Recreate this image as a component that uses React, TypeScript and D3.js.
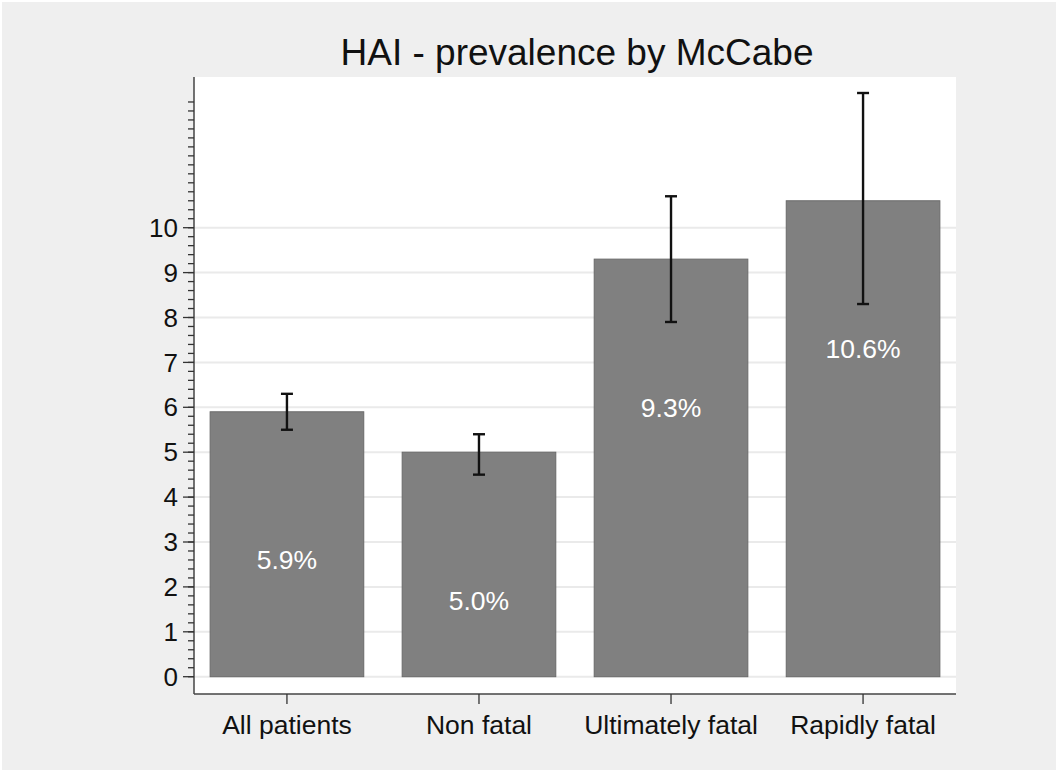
import React from "react";
import * as d3 from "d3";

const categories = ["All patients", "Non fatal", "Ultimately fatal", "Rapidly fatal"];
const prevalence = [5.9, 5.0, 9.3, 10.6];
const ciLow = [5.5, 4.5, 7.9, 8.3];
const ciHigh = [6.3, 5.4, 10.7, 13.0];
const barLabels = ["5.9%", "5.0%", "9.3%", "10.6%"];
const majorTicks = [0, 1, 2, 3, 4, 5, 6, 7, 8, 9, 10];
const minorTicks = d3.range(0, 65).map((i) => i / 5);
const title = "HAI - prevalence by McCabe";

const W = 1058;
const H = 771;
const plot = { left: 194, right: 956, top: 77, bottom: 694 };
const FONT = "'Liberation Sans', Arial, sans-serif";

export default function App() {
  const y = d3.scaleLinear().domain([0, 10]).range([676.7, 227.7]);
  const x = d3
    .scaleBand<string>()
    .domain(categories)
    .range([plot.left, plot.right])
    .paddingInner(0.2)
    .paddingOuter(0.084);
  const bw = x.bandwidth();
  const labelOffset = 3.3;

  return (
    <div style={{ position: "absolute", left: 0, top: 0 }}>
      <svg width={W} height={H} style={{ display: "block" }} fontFamily={FONT}>
        <rect x={0} y={0} width={W} height={H} fill="#ffffff" />
        <rect x={2} y={2} width={W - 4} height={H - 3} fill="#efefef" />
        <rect
          x={plot.left}
          y={plot.top}
          width={plot.right - plot.left}
          height={plot.bottom - plot.top}
          fill="#ffffff"
        />
        {majorTicks.map((t) => (
          <line
            key={"g" + t}
            x1={plot.left}
            x2={plot.right}
            y1={y(t)}
            y2={y(t)}
            stroke="#eaeaea"
            strokeWidth={2}
          />
        ))}
        {categories.map((c, i) => (
          <rect
            key={"b" + c}
            x={x(c)!}
            y={y(prevalence[i])}
            width={bw}
            height={y(0) - y(prevalence[i])}
            fill="#808080"
            stroke="#6a6a6a"
            strokeWidth={1}
          />
        ))}
        {categories.map((c, i) => (
          <text
            key={"l" + c}
            x={x(c)! + bw / 2}
            y={y(prevalence[i] - labelOffset)}
            dy="0.35em"
            textAnchor="middle"
            fill="#ffffff"
            fontSize={26.5}
          >
            {barLabels[i]}
          </text>
        ))}
        {categories.map((c, i) => {
          const cx = x(c)! + bw / 2;
          return (
            <g key={"e" + c} stroke="#111111" strokeWidth={2.4}>
              <line x1={cx} x2={cx} y1={y(ciLow[i])} y2={y(ciHigh[i])} />
              <line x1={cx - 6} x2={cx + 6} y1={y(ciLow[i])} y2={y(ciLow[i])} />
              <line x1={cx - 6} x2={cx + 6} y1={y(ciHigh[i])} y2={y(ciHigh[i])} />
            </g>
          );
        })}
        <line x1={plot.left} x2={plot.left} y1={plot.top} y2={plot.bottom} stroke="#444" strokeWidth={1.5} />
        {minorTicks.map((t) => (
          <line
            key={"m" + t}
            x1={plot.left - 6}
            x2={plot.left}
            y1={y(t)}
            y2={y(t)}
            stroke="#333"
            strokeWidth={1.3}
          />
        ))}
        {majorTicks.map((t) => (
          <g key={"t" + t}>
            <line x1={plot.left - 11} x2={plot.left} y1={y(t)} y2={y(t)} stroke="#333" strokeWidth={1.3} />
            <text
              x={plot.left - 16}
              y={y(t)}
              dy="0.35em"
              textAnchor="end"
              fontSize={26}
              fill="#111"
            >
              {t}
            </text>
          </g>
        ))}
        <line x1={plot.left} x2={plot.right} y1={plot.bottom} y2={plot.bottom} stroke="#444" strokeWidth={1.5} />
        {categories.map((c) => (
          <g key={"x" + c}>
            <line
              x1={x(c)! + bw / 2}
              x2={x(c)! + bw / 2}
              y1={plot.bottom}
              y2={plot.bottom + 10}
              stroke="#333"
              strokeWidth={1.3}
            />
            <text x={x(c)! + bw / 2} y={734} textAnchor="middle" fontSize={26.5} fill="#111">
              {c}
            </text>
          </g>
        ))}
        <text x={(plot.left + plot.right) / 2 + 2} y={64.7} textAnchor="middle" fontSize={37} fill="#111">
          {title}
        </text>
      </svg>
    </div>
  );
}
